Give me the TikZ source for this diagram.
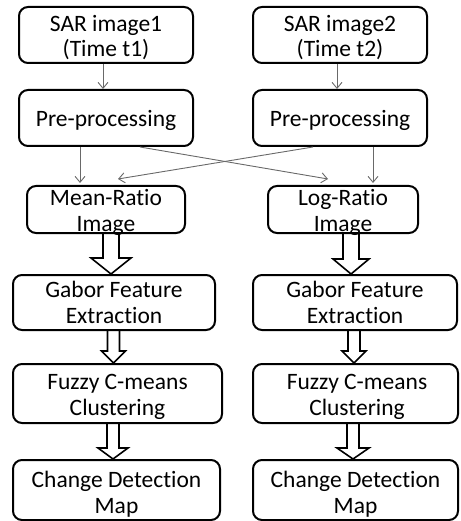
\documentclass[tikz,border=0pt]{standalone}
\usepackage{fontspec}
\setmainfont[Ligatures=NoCommon]{Carlito}
\usetikzlibrary{arrows.meta,calc}
\definecolor{arrgray}{RGB}{105,105,105}
\tikzset{
  box/.style={draw=black, line width=2pt, rounded corners=9pt, inner sep=0pt},
  lbl/.style={align=center, font=\fontsize{23.5}{25.5}\selectfont, inner sep=0pt, anchor=base},
  thinarr/.style={draw=arrgray, line width=0.9pt, -{Straight Barb[length=6pt,width=10pt]}},
  hol/.style={draw=black, line width=1.6pt, line join=miter}
}
\newcommand\harrow[6]{%
  \draw[hol] let \p1=(#3 |- #1.south), \p2=(#3 |- #2.north) in
    (\x1-#4,\y1) -- (\x1-#4,\y2+#6) -- (\x1-#5,\y2+#6) -- (\x2,\y2)
    -- (\x1+#5,\y2+#6) -- (\x1+#4,\y2+#6) -- (\x1+#4,\y1);
}
\begin{document}
\begin{tikzpicture}[x=1pt,y=-1pt]
\useasboundingbox (0,0) rectangle (460,521);
% boxes
\node[box, minimum width=174pt, minimum height=56pt] (s1) at (106,35) {};
\node[box, minimum width=174pt, minimum height=56pt] (s2) at (340,35) {};
\node[box, minimum width=174pt, minimum height=56pt] (p1) at (106,118) {};
\node[box, minimum width=174pt, minimum height=56pt] (p2) at (340,118) {};
\node[box, minimum width=158pt, minimum height=47pt] (mr) at (106,209.5) {};
\node[box, minimum width=150pt, minimum height=47pt] (lr) at (343,209.5) {};
\node[box, minimum width=202pt, minimum height=55pt] (gl) at (114,302.5) {};
\node[box, minimum width=204pt, minimum height=55pt] (gr) at (355,302.5) {};
\node[box, minimum width=209pt, minimum height=59pt] (fl) at (117.5,393.5) {};
\node[box, minimum width=205pt, minimum height=59pt] (fr) at (355.5,393.5) {};
\node[box, minimum width=207pt, minimum height=60pt] (cl) at (116.5,490) {};
\node[box, minimum width=205pt, minimum height=60pt] (cr) at (355.5,490) {};
% texts (anchor = baseline of last line)
\node[lbl] (s1t) at (106,57) {SAR image1\\(Time t1)};
\node[lbl] (s2t) at (340,57) {SAR image2\\(Time t2)};
\node[lbl] (p1t) at (106,127) {Pre-processing};
\node[lbl] (p2t) at (340,127) {Pre-processing};
\node[lbl] (mrt) at (106,231) {Mean-Ratio\\Image};
\node[lbl] (lrt) at (343,231) {Log-Ratio\\Image};
\node[lbl] (glt) at (114,323) {Gabor Feature\\Extraction};
\node[lbl] (grt) at (355,323) {Gabor Feature\\Extraction};
\node[lbl] (flt) at (117.5,415) {Fuzzy C-means\\Clustering};
\node[lbl] (frt) at (357,415) {Fuzzy C-means\\Clustering};
\node[lbl] (clt) at (116.5,513) {Change Detection\\Map};
\node[lbl] (crt) at (355.5,513) {Change Detection\\Map};
% helper coordinates
\coordinate (xa) at (103,0);
\coordinate (xb) at (337,0);
\coordinate (xc) at (80,0);
\coordinate (xd) at (373,0);
\coordinate (xe) at (140,0);
\coordinate (xf) at (313,0);
\coordinate (e1) at (328,179);
\coordinate (e2) at (118,179);
\coordinate (h1) at (111,0);
\coordinate (h2) at (351,0);
\coordinate (h3) at (113.5,0);
\coordinate (h4) at (354,0);
\coordinate (h5) at (113,0);
\coordinate (h6) at (353,0);
% thin arrows
\draw[thinarr] (xa |- s1.south) -- (xa |- p1.north);
\draw[thinarr] (xb |- s2.south) -- (xb |- p2.north);
\draw[thinarr] (xc |- p1.south) -- ($(xc |- mr.north)+(0,-2)$);
\draw[thinarr] (xd |- p2.south) -- ($(xd |- lr.north)+(0,-2)$);
\draw[thinarr] (xe |- p1.south) -- (e1);
\draw[thinarr] (xf |- p2.south) -- (e2);
% hollow arrows
\harrow{mr}{gl}{h1}{8pt}{20pt}{16pt}
\harrow{lr}{gr}{h2}{8pt}{18pt}{15pt}
\harrow{gl}{fl}{h3}{6pt}{12pt}{12pt}
\harrow{gr}{fr}{h4}{6pt}{12pt}{12pt}
\harrow{fl}{cl}{h5}{6pt}{15pt}{11pt}
\harrow{fr}{cr}{h6}{6pt}{16pt}{11pt}
\end{tikzpicture}
\end{document}
